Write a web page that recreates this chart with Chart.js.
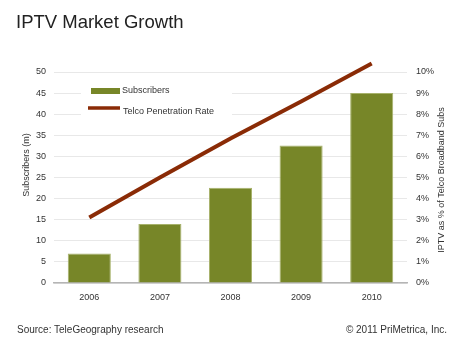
<!DOCTYPE html>
<html>
<head>
<meta charset="utf-8">
<script src="https://cdn.jsdelivr.net/npm/chart.js@4/dist/chart.umd.min.js"></script>
<style>
  body { margin: 0; background: #fff; font-family: "Liberation Sans", Arial, sans-serif; }
  #wrap { position: relative; width: 468px; height: 350px; }
  #title { position: absolute; left: 16px; top: 11px; font-size: 18.5px; color: #222; }
  .foot { position: absolute; top: 324px; font-size: 10px; color: #333; }
  canvas { position: absolute; left: 0; top: 0; }
</style>
</head>
<body>
<div id="wrap">
  <canvas id="myChart" width="468" height="350"></canvas>
  <div id="title">IPTV Market Growth</div>
  <div class="foot" style="left:17px">Source: TeleGeography research</div>
  <div class="foot" style="right:21px">© 2011 PriMetrica, Inc.</div>
</div>
<script>
let years = ['2006', '2007', '2008', '2009', '2010'];
let subscribers = [7, 14, 22.6, 32.6, 45];
let penetration = [3.1, 5.0, 6.85, 8.6, 10.4];
let leftTitle = 'Subscribers (m)';
let rightTitle = 'IPTV as % of Telco Broadband Subs';

const green = '#778628';
const brown = '#8a2b06';
const font = '"Liberation Sans", Arial, sans-serif';

// legend box + axis titles (both read bottom to top)
const extras = {
    id: 'extras',
    beforeDatasetsDraw(chart) {
        const ctx = chart.ctx;
        const ds = chart.data.datasets;
        ctx.save();
        ctx.fillStyle = '#fff';
        ctx.fillRect(81, 86, 151, 34);
        ctx.fillStyle = green;
        ctx.fillRect(91, 88, 29, 6);
        ctx.strokeStyle = brown;
        ctx.lineWidth = 3.5;
        ctx.beginPath();
        ctx.moveTo(88, 108);
        ctx.lineTo(120, 108);
        ctx.stroke();
        ctx.fillStyle = '#333';
        ctx.font = '9px ' + font;
        ctx.textBaseline = 'middle';
        ctx.fillText(ds[1].label, 122, 91);
        ctx.fillText(ds[0].label, 123, 112);

        ctx.textAlign = 'center';
        ctx.translate(27, 165);
        ctx.rotate(-Math.PI / 2);
        ctx.fillText(leftTitle, 0, 0);
        ctx.restore();

        ctx.save();
        ctx.fillStyle = '#333';
        ctx.font = '9px ' + font;
        ctx.textAlign = 'center';
        ctx.textBaseline = 'middle';
        ctx.translate(442, 180);
        ctx.rotate(-Math.PI / 2);
        ctx.fillText(rightTitle, 0, 0);
        ctx.restore();
    }
};

const myChart = new Chart(document.getElementById('myChart').getContext('2d'), {
    data: {
        labels: years,
        datasets: [{
            type: 'line',
            label: 'Telco Penetration Rate',
            data: penetration,
            yAxisID: 'y1',
            borderColor: brown,
            borderWidth: 4,
            pointRadius: 0,
            tension: 0,
            clip: false,
            order: 0
        }, {
            type: 'bar',
            label: 'Subscribers',
            data: subscribers,
            yAxisID: 'y',
            backgroundColor: green,
            borderColor: '#a7b26b',
            borderWidth: { top: 1, left: 1, right: 1, bottom: 0 },
            barPercentage: 0.61,
            categoryPercentage: 1,
            order: 1
        }]
    },
    plugins: [extras],
    options: {
        responsive: false,
        animation: false,
        layout: { padding: { top: 72, bottom: 47, left: 0, right: 0 } },
        plugins: { legend: { display: false }, tooltip: { enabled: false } },
        scales: {
            x: {
                grid: { display: false, drawTicks: false },
                border: { color: '#b5b5b5', width: 1.5 },
                ticks: { color: '#333', font: { size: 9, family: font }, padding: 9 },
                afterFit(s) { s.height = 20; }
            },
            y: {
                position: 'left',
                min: 0,
                max: 50,
                ticks: { stepSize: 5, color: '#333', font: { size: 9, family: font }, padding: 8 },
                grid: { color: '#e8e8e8', drawTicks: false },
                border: { display: false },
                afterFit(s) { s.width = 54; }
            },
            y1: {
                position: 'right',
                min: 0,
                max: 10,
                ticks: { stepSize: 1, color: '#333', font: { size: 9, family: font }, padding: 9,
                    callback: v => v + '%' },
                grid: { display: false, drawTicks: false },
                border: { display: false },
                afterFit(s) { s.width = 61; }
            }
        }
    }
});
</script>
</body>
</html>
